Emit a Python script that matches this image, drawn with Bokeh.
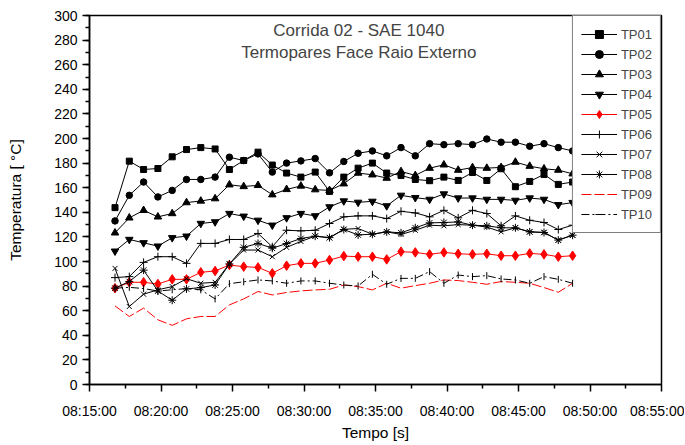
import numpy as np
import pandas as pd
from bokeh.plotting import figure
from bokeh.models import (Range1d, FixedTicker, SingleIntervalTicker, DatetimeTickFormatter,
                          Legend, LegendItem, Label)
from bokeh.embed import file_html
from bokeh.resources import INLINE

# ---- data ----
times = ["08:16:47", "08:17:47", "08:18:47", "08:19:47", "08:20:47", "08:21:47", "08:22:47",
         "08:23:47", "08:24:47", "08:25:47", "08:26:47", "08:27:47", "08:28:47", "08:29:47",
         "08:30:47", "08:31:47", "08:32:47", "08:33:47", "08:34:47", "08:35:47", "08:36:47",
         "08:37:47", "08:38:47", "08:39:47", "08:40:47", "08:41:47", "08:42:47", "08:43:47",
         "08:44:47", "08:45:47", "08:46:47", "08:47:47", "08:48:47"]

TP01 = [143.8, 181.6, 174.8, 175.6, 185.1, 191.0, 192.6, 191.5, 174.8, 182.1, 188.9, 178.4, 171.9,
        168.6, 172.7, 157.0, 168.6, 175.9, 180.0, 171.9, 170.0, 166.7, 165.7, 168.6, 165.9, 172.4,
        165.9, 175.4, 160.8, 165.1, 170.8, 162.7, 164.6]
TP02 = [133.0, 153.8, 164.6, 152.5, 157.8, 166.7, 166.7, 168.6, 184.8, 182.1, 187.5, 172.7, 180.0,
        181.8, 183.7, 172.1, 181.3, 188.0, 189.9, 185.9, 192.6, 185.9, 195.8, 195.0, 195.8, 195.0,
        199.6, 197.0, 197.0, 193.7, 195.8, 192.6, 189.9]
TP03 = [123.3, 135.5, 141.6, 136.3, 139.0, 147.9, 149.2, 151.1, 162.4, 161.0, 161.9, 154.3, 158.6,
        161.4, 158.4, 157.8, 163.2, 171.9, 170.5, 167.8, 173.2, 170.0, 175.9, 178.6, 174.3, 176.4,
        175.9, 176.5, 180.8, 177.5, 175.4, 174.3, 171.3]
TP04 = [108.4, 117.9, 115.2, 112.5, 119.3, 120.6, 130.9, 132.2, 139.0, 136.8, 133.5, 129.5, 135.5,
        139.0, 137.1, 144.4, 149.2, 148.1, 148.9, 145.2, 153.8, 151.9, 150.5, 154.9, 151.6, 151.6,
        150.5, 150.5, 149.7, 151.6, 150.5, 146.2, 147.9]
TP05 = [78.3, 83.1, 83.1, 81.7, 85.5, 85.5, 91.2, 92.3, 97.1, 95.8, 95.2, 90.4, 96.6, 98.5, 98.5,
        101.2, 104.4, 103.9, 103.9, 101.7, 108.0, 107.4, 105.8, 107.4, 106.3, 105.8, 106.3, 104.7,
        104.7, 106.6, 105.8, 103.9, 104.7]
TP06 = [86.9, 87.7, 99.3, 103.9, 103.9, 98.5, 114.7, 114.7, 117.9, 117.9, 122.8, 112.0, 125.4,
        124.9, 125.4, 130.9, 136.3, 137.1, 137.1, 134.9, 140.8, 139.5, 136.3, 141.6, 135.5, 141.6,
        139.0, 129.0, 137.1, 133.5, 131.7, 126.0, 129.5]
TP07 = [94.4, 63.4, 73.4, 77.0, 79.6, 86.0, 82.3, 83.1, 98.0, 109.3, 109.3, 103.9, 111.5, 116.3,
        120.6, 119.3, 126.2, 126.8, 122.2, 124.1, 122.0, 125.4, 129.5, 129.0, 130.0, 129.5, 128.0,
        124.1, 127.4, 124.1, 123.6, 117.4, 121.4]
TP08 = [78.3, 83.7, 93.0, 76.0, 68.5, 77.7, 78.8, 80.9, 98.0, 111.5, 114.7, 110.8, 114.6, 118.7,
        120.6, 119.4, 126.0, 121.6, 122.2, 124.1, 123.3, 127.4, 131.4, 131.7, 132.2, 129.5, 129.0,
        127.4, 127.4, 124.1, 123.6, 117.4, 121.4]
TP09 = [63.9, 55.3, 62.1, 52.6, 48.1, 53.4, 55.3, 55.3, 64.7, 69.6, 75.6, 72.8, 74.8, 76.1, 76.9,
        77.4, 80.9, 79.6, 76.9, 82.3, 78.3, 80.4, 82.3, 85.0, 84.5, 83.1, 81.5, 83.7, 83.1, 82.3,
        78.8, 75.0, 82.3]
TP10 = [78.3, 79.0, 78.0, 76.0, 77.0, 78.0, 77.0, 69.6, 82.0, 83.5, 85.0, 84.2, 82.3, 84.2, 84.2,
        82.3, 80.9, 80.1, 89.6, 81.5, 86.3, 86.3, 91.8, 82.3, 89.0, 87.7, 88.5, 85.8, 85.0, 82.3,
        87.7, 85.5, 82.3]

x_major = ["08:15:00", "08:20:00", "08:25:00", "08:30:00", "08:35:00", "08:40:00", "08:45:00",
           "08:50:00", "08:55:00"]
x_minor = ["08:17:30", "08:22:30", "08:27:30", "08:32:30", "08:37:30", "08:42:30", "08:47:30",
           "08:52:30"]
title1 = "Corrida 02 - SAE 1040"
title2 = "Termopares Face Raio Externo"


def to_ms(t):
    return pd.Timestamp("2000-01-01 " + t).value / 1e6


xs = [to_ms(t) for t in times]
FONT = "Liberation Sans"

p = figure(width=684, height=443, x_axis_type="datetime", output_backend="svg",
           toolbar_location=None, min_border_left=89, min_border_right=23,
           min_border_top=15, min_border_bottom=56,
           x_range=Range1d(to_ms("08:15:00"), to_ms("08:55:00")), y_range=Range1d(0, 300))
p.xgrid.visible = False
p.ygrid.visible = False
p.outline_line_color = "black"
p.outline_line_width = 1.5
p.background_fill_color = "white"
p.border_fill_color = "white"

p.xaxis.ticker = FixedTicker(ticks=[to_ms(t) for t in x_major], minor_ticks=[to_ms(t) for t in x_minor])
fmt = "%H:%M:%S"
p.xaxis.formatter = DatetimeTickFormatter(seconds=fmt, minsec=fmt, minutes=fmt, hourmin=fmt, hours=fmt)
p.yaxis.ticker = SingleIntervalTicker(interval=20, num_minor_ticks=2)

for ax in (p.xaxis[0], p.yaxis[0]):
    ax.axis_line_width = 1.5
    ax.major_tick_line_width = 1.5
    ax.minor_tick_line_width = 1.5
    ax.major_tick_in = 0
    ax.major_tick_out = 7
    ax.minor_tick_in = 0
    ax.minor_tick_out = 4
    ax.major_label_text_font = FONT
    ax.major_label_text_font_size = "14px"
    ax.major_label_text_color = "black"
    ax.axis_label_text_font = FONT
    ax.axis_label_text_font_size = "15.5px"
    ax.axis_label_text_font_style = "normal"
    ax.axis_label_text_color = "black"

p.xaxis.axis_label = "Tempo [s]"
p.yaxis.axis_label = "Temperatura [ °C]"
p.xaxis.major_label_standoff = 11
p.xaxis.axis_label_standoff = 2
p.yaxis.major_label_standoff = 5
p.yaxis.axis_label_standoff = 27

series = [
    ("TP01", TP01, "black", "square", 6, "solid", 0),
    ("TP02", TP02, "black", "circle", 6.5, "solid", 0),
    ("TP03", TP03, "black", "triangle", 7.5, "solid", 0),
    ("TP04", TP04, "black", "inverted_triangle", 7.5, "solid", 0),
    ("TP05", TP05, "red", "diamond", 9.5, "solid", 0),
    ("TP06", TP06, "black", "cross", 8, "solid", 0),
    ("TP07", TP07, "black", "x", 7, "solid", 0),
    ("TP08", TP08, "black", "asterisk", 8, "solid", 0),
    ("TP09", TP09, "red", None, 0, "10 3", 0),
    ("TP10", TP10, "black", "dash", 7, "8 3 2 3", np.pi / 2),
]

items = []
for name, ys, col, mk, sz, dash, ang in series:
    rs = []
    rs.append(p.line(xs, ys, line_color=col, line_width=1, line_dash=dash))
    if mk is not None:
        rs.append(p.scatter(xs, ys, marker=mk, size=sz, angle=ang, line_color=col,
                            fill_color=col, line_width=1))
    items.append(LegendItem(label=name, renderers=rs))

legend = Legend(items=items, location="top_right", margin=0, padding=8, spacing=0,
                label_height=20, glyph_height=20, glyph_width=36, label_standoff=4,
                label_text_font=FONT, label_text_font_size="13px",
                border_line_color="black", border_line_width=1, background_fill_alpha=1)
p.add_layout(legend)

p.add_layout(Label(x=to_ms("08:33:50"), y=288, text=title1, text_align="center",
                   text_baseline="middle", text_font=FONT, text_font_size="17px"))
p.add_layout(Label(x=to_ms("08:33:50"), y=270, text=title2, text_align="center",
                   text_baseline="middle", text_font=FONT, text_font_size="17px"))

open("out.html", "w").write(file_html(p, INLINE))
